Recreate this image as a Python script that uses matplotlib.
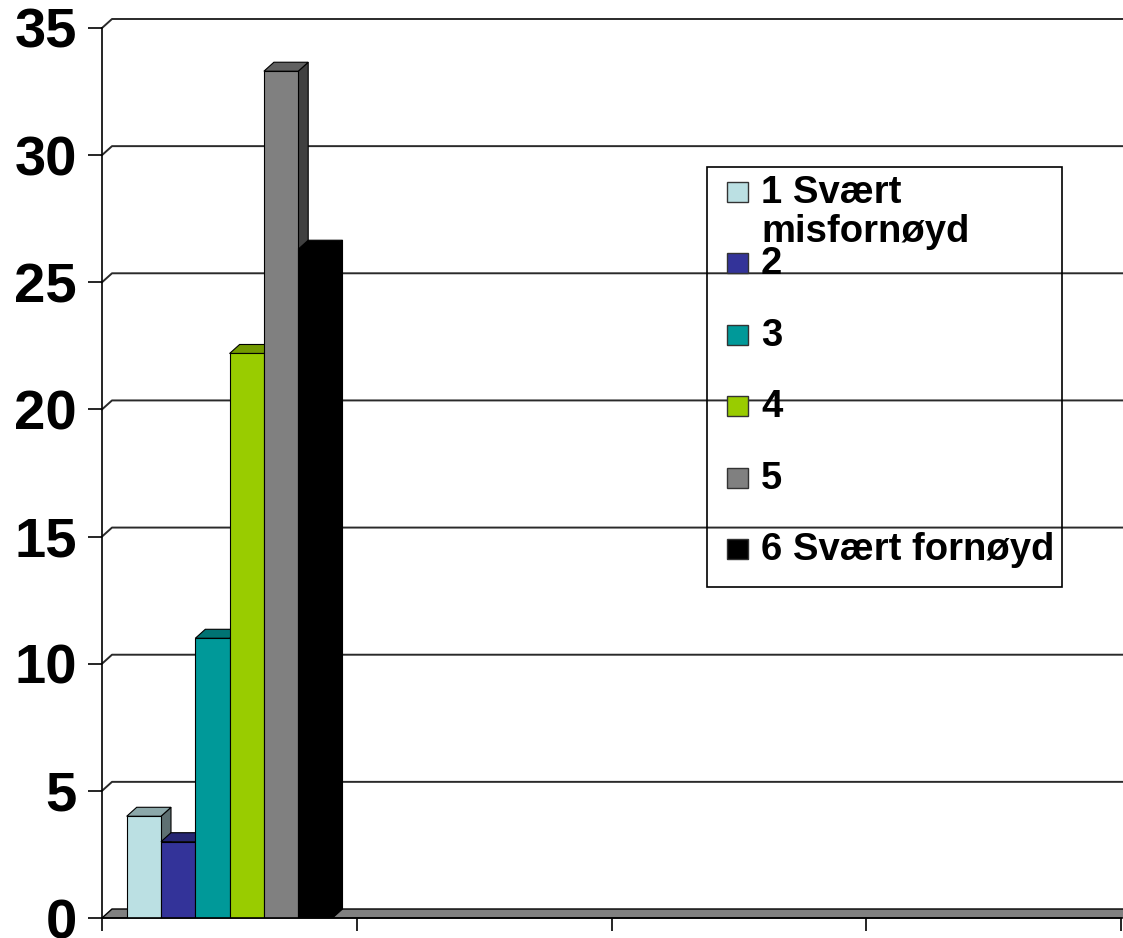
import matplotlib.pyplot as plt
from matplotlib.patches import Polygon, Rectangle

# data
categories = ['1 Svært\nmisfornøyd', '2', '3', '4', '5', '6 Svært fornøyd']
values = [4.0, 3.0, 11.0, 22.2, 33.3, 26.3]
colors = ['#BBE0E3', '#333399', '#009999', '#99CC00', '#808080', '#000000']
y_ticks = [0, 5, 10, 15, 20, 25, 30, 35]
n_slots = 4

W, H = 1123, 938
fig = plt.figure(figsize=(W / 100, H / 100), dpi=100)
ax = fig.add_axes([102 / W, 20 / H, 1019 / W, 890 / H])
ax.set_xlim(0, n_slots)
ax.set_ylim(0, 35)

px_x = n_slots / 1019
px_y = 35 / 890
dx, dy = 10 * px_x, 9 * px_y


def shade(c, f):
    r, g, b = plt.matplotlib.colors.to_rgb(c)
    return (r * f, g * f, b * f)


# back wall gridlines with the little diagonal from the front tick
for y in y_ticks[1:]:
    ax.plot([0, dx, n_slots + 4 * px_x], [y, y + dy, y + dy],
            color='#2a2a2a', lw=1.4, clip_on=False, zorder=1)

# floor
ax.add_patch(Polygon([(0, 0), (n_slots + 2 * px_x, 0),
                      (n_slots + 2 * px_x + dx, dy), (dx, dy)],
                     closed=True, fc='#808080', ec='black', lw=1,
                     clip_on=False, zorder=2))

# bars with top and side faces
bw = 34.3 * px_x
x0 = 24.7 * px_x
for i, (v, c) in enumerate(zip(values, colors)):
    L = x0 + i * bw
    z = 3 + 2 * i
    ax.add_patch(Polygon([(L + bw, 0), (L + bw + dx, dy),
                          (L + bw + dx, v + dy), (L + bw, v)],
                         closed=True, fc=shade(c, 0.5), ec='black', lw=0.8,
                         zorder=z))
    ax.add_patch(Polygon([(L, v), (L + bw, v), (L + bw + dx, v + dy),
                          (L + dx, v + dy)],
                         closed=True, fc=shade(c, 0.75), ec='black', lw=0.8,
                         zorder=z))
    ax.bar(L, v, width=bw, align='edge', color=c, edgecolor='black',
           lw=0.8, zorder=z + 1)

for s in ['top', 'right']:
    ax.spines[s].set_visible(False)
for s in ['left', 'bottom']:
    ax.spines[s].set_color('black')
    ax.spines[s].set_linewidth(1.2)
    ax.spines[s].set_zorder(20)

ax.set_xticks(range(n_slots + 1))
ax.set_xticklabels([])
ax.set_yticks(y_ticks)
ax.set_yticklabels([str(t) for t in y_ticks], fontsize=40.5, fontweight='bold',
                   family='Liberation Sans')
ax.tick_params(axis='x', length=9.5, width=1.2, color='black')
ax.tick_params(axis='y', length=10, width=1.2, color='black', pad=8)
ax.patch.set_visible(False)

# legend drawn by hand (transparent, gridlines show through)
def fx(p):
    return p / W


def fy(p):
    return 1 - p / H


fig.add_artist(Rectangle((fx(707), fy(587)), 355 / W, 420 / H,
                         transform=fig.transFigure, fill=False,
                         ec='black', lw=1.2))
for i, (lab, c) in enumerate(zip(categories, colors)):
    cy = 192 + 71.4 * i
    fig.add_artist(Rectangle((fx(727), fy(cy + 10)), 21 / W, 20 / H,
                             transform=fig.transFigure, fc=c, ec='#333333',
                             lw=1))
    for k, line in enumerate(lab.split('\n')):
        fig.text(fx(761), fy(cy + 11 + 39 * k), line, fontsize=27.5,
                 fontweight='bold', family='Liberation Sans',
                 va='baseline', ha='left')

fig.savefig('out.png', dpi=100)
